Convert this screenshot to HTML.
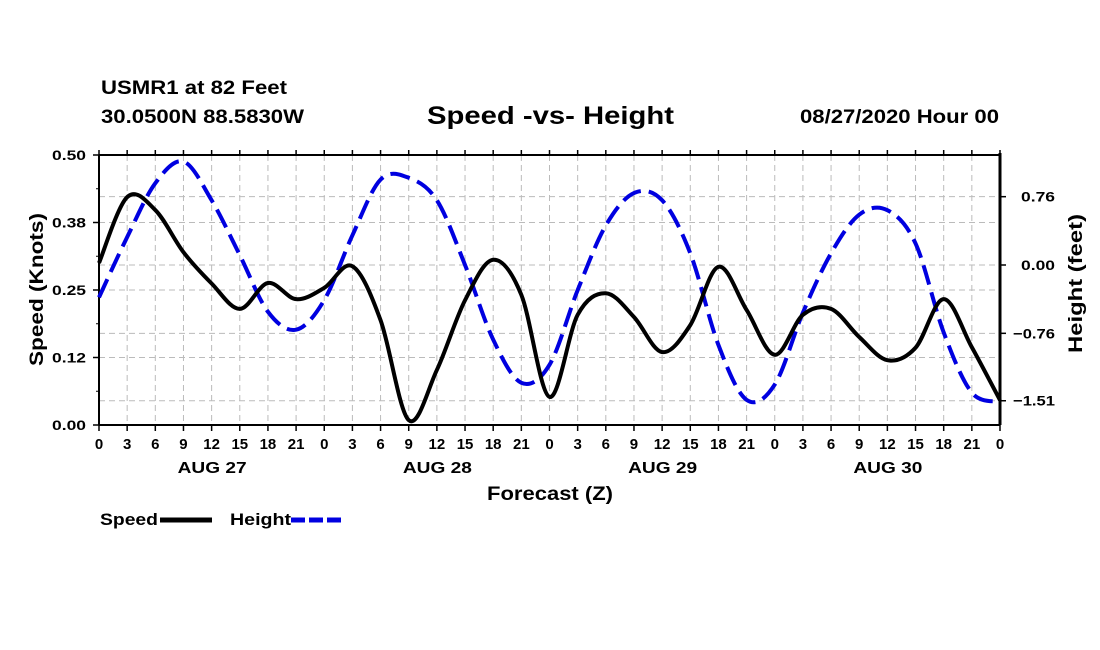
<!DOCTYPE html>
<html><head><meta charset="utf-8"><style>
body{margin:0;background:#fff;}
svg{display:block;font-family:"Liberation Sans",sans-serif;font-weight:bold;}
</style></head><body>
<svg width="1100" height="650">
<text x="101" y="94" font-size="19" textLength="186" lengthAdjust="spacingAndGlyphs">USMR1 at 82 Feet</text>
<text x="101" y="123" font-size="19" textLength="203" lengthAdjust="spacingAndGlyphs">30.0500N 88.5830W</text>
<text x="427" y="124" font-size="25" textLength="247" lengthAdjust="spacingAndGlyphs">Speed -vs- Height</text>
<text x="800" y="123" font-size="19" textLength="199" lengthAdjust="spacingAndGlyphs">08/27/2020 Hour 00</text>
<g id="grid"></g>
<g id="axes"></g>
<g id="series"></g>
<text transform="translate(43,366) rotate(-90)" font-size="19" textLength="153" lengthAdjust="spacingAndGlyphs">Speed (Knots)</text>
<text transform="translate(1082,353) rotate(-90)" font-size="19" textLength="139" lengthAdjust="spacingAndGlyphs">Height (feet)</text>
<text x="487" y="500" font-size="19" textLength="126" lengthAdjust="spacingAndGlyphs">Forecast (Z)</text>
<g>
<text x="100" y="525" font-size="17" textLength="58" lengthAdjust="spacingAndGlyphs">Speed</text>
<line x1="160" y1="520" x2="212" y2="520" stroke="#000" stroke-width="5"/>
<text x="230" y="525" font-size="17" textLength="61" lengthAdjust="spacingAndGlyphs">Height</text>
<line x1="291" y1="520" x2="342" y2="520" stroke="#0000e0" stroke-width="5" stroke-dasharray="14,4"/>
</g>
</svg>
<script>
const hours=[0,3,6,9,12,15,18,21,24,27,30,33,36,39,42,45,48,51,54,57,60,63,66,69,72,75,78,81,84,87,90,93,96];
const speed=[0.300,0.422,0.398,0.320,0.262,0.215,0.263,0.233,0.254,0.294,0.194,0.009,0.102,0.231,0.306,0.241,0.052,0.204,0.244,0.200,0.135,0.185,0.293,0.213,0.130,0.204,0.215,0.163,0.120,0.143,0.233,0.144,0.046];
const height=[-0.36,0.31,0.91,1.15,0.72,0.11,-0.52,-0.72,-0.39,0.33,0.95,0.97,0.72,0.00,-0.83,-1.31,-1.11,-0.28,0.44,0.80,0.72,0.13,-0.89,-1.50,-1.33,-0.53,0.13,0.56,0.61,0.24,-0.75,-1.42,-1.52];
const leftTicks=[0,0.125,0.25,0.375,0.5];
const leftLabels=["0.00","0.12","0.25","0.38","0.50"];
const rightTicks=[-1.51,-0.76,0,0.76];
const rightLabels=["\u22121.51","\u22120.76","0.00","0.76"];
const dayLabels=["AUG 27","AUG 28","AUG 29","AUG 30"];
const X0=99,X1=1000,Y0=425,Y1=155;
const xs=h=>X0+(X1-X0)*h/96;
const ys=v=>Y0-(Y0-Y1)*v/0.5;
const yh=v=>265-v*89.9;
const NS="http://www.w3.org/2000/svg";
function mk(tag,attrs,parent,txt){const e=document.createElementNS(NS,tag);for(const k in attrs)e.setAttribute(k,attrs[k]);if(txt!==undefined)e.textContent=txt;document.getElementById(parent).appendChild(e);return e;}
for(let h=3;h<96;h+=3){const l=mk('line',{x1:xs(h),x2:xs(h),y1:Y1,y2:Y0,stroke:'#bbb','stroke-dasharray':'6,4','stroke-width':1},'grid');

}
const hy=leftTicks.map(ys).concat(rightTicks.map(yh));
hy.forEach(y=>{const l=mk('line',{x1:X0,x2:X1,y1:y,y2:y,stroke:'#bbb','stroke-dasharray':'6,4','stroke-width':1},'grid');

});
mk('line',{x1:X0,x2:X1,y1:Y1,y2:Y1,stroke:'#000','stroke-width':2},'axes');
mk('line',{x1:X0,x2:X1,y1:Y0,y2:Y0,stroke:'#000','stroke-width':2},'axes');
mk('line',{x1:X0,x2:X0,y1:Y1,y2:Y0,stroke:'#000','stroke-width':2},'axes');
mk('line',{x1:X1,x2:X1,y1:Y1-2,y2:Y0,stroke:'#000','stroke-width':3},'axes');
leftTicks.forEach((v,i)=>{const y=ys(v);
mk('line',{x1:X0-6,x2:X0,y1:y,y2:y,stroke:'#000','stroke-width':1.5},'axes');
const t=mk('text',{x:X0-47,y:y+5,'font-size':14,textLength:34,lengthAdjust:'spacingAndGlyphs'},'axes',leftLabels[i]);

});
for(let k=1;k<8;k+=2){const y=ys(k/16);mk('line',{x1:X0-3,x2:X0,y1:y,y2:y,stroke:'#000'},'axes');}
rightTicks.forEach((v,i)=>{const y=yh(v);
mk('line',{x1:X1,x2:X1+6,y1:y,y2:y,stroke:'#000','stroke-width':1.5},'axes');
const w=rightLabels[i].length>4?42:34;
const t=mk('text',{x:1055-w,y:y+5,'font-size':14,textLength:w,lengthAdjust:'spacingAndGlyphs'},'axes',rightLabels[i]);

});
for(let h=0;h<=96;h+=3){const x=xs(h);
mk('line',{x1:x,x2:x,y1:Y0,y2:Y0+6,stroke:'#000','stroke-width':1.5},'axes');
mk('line',{x1:x,x2:x,y1:Y1-5,y2:Y1,stroke:'#000','stroke-width':1.5},'axes');
const t=mk('text',{x:x,y:449,'font-size':15,'text-anchor':'middle'},'axes',String(h%24));

}
dayLabels.forEach((d,i)=>{const t=mk('text',{x:xs(i*24+12)-34,y:473,'font-size':16,textLength:69,lengthAdjust:'spacingAndGlyphs'},'axes',d);

});
function smooth(pts){let d='M'+pts[0][0]+','+pts[0][1];
for(let i=0;i<pts.length-1;i++){const p0=pts[Math.max(0,i-1)],p1=pts[i],p2=pts[i+1],p3=pts[Math.min(pts.length-1,i+2)];
const c1=[p1[0]+(p2[0]-p0[0])/6,p1[1]+(p2[1]-p0[1])/6],c2=[p2[0]-(p3[0]-p1[0])/6,p2[1]-(p3[1]-p1[1])/6];
d+=' C'+c1.join(',')+' '+c2.join(',')+' '+p2.join(',');}return d;}
const hp=mk('path',{d:smooth(hours.map((h,i)=>[xs(h),yh(height[i])])),fill:'none',stroke:'#0000e0','stroke-width':4,'stroke-dasharray':'20,8'},'series');


const sp=mk('path',{d:smooth(hours.map((h,i)=>[xs(h),ys(speed[i])])),fill:'none',stroke:'#000','stroke-width':4},'series');


</script>
</body></html>
